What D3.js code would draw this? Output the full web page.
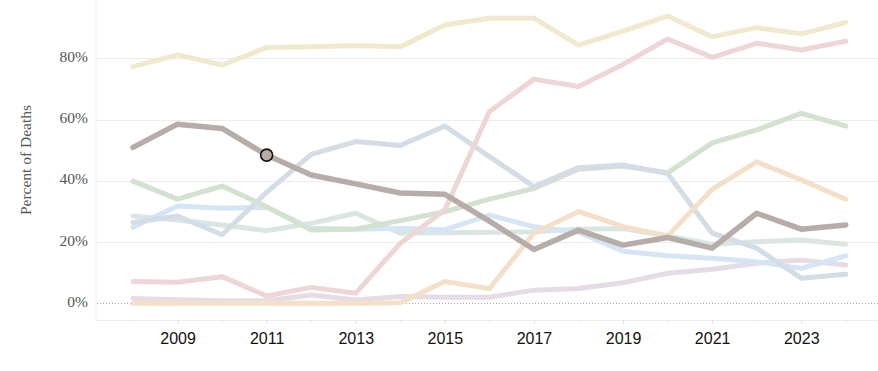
<!DOCTYPE html>
<html><head><meta charset="utf-8">
<script src="https://cdn.jsdelivr.net/npm/d3@7"></script>
<style>
html,body{margin:0;padding:0;background:#fff;}
svg{display:block;}
</style></head>
<body>
<svg id="chart" width="878" height="371"></svg>
<script>
const years = [2008,2009,2010,2011,2012,2013,2014,2015,2016,2017,2018,2019,2020,2021,2022,2023,2024];
const yTicks = [0,20,40,60,80];
const xLabelYears = [2009,2011,2013,2015,2017,2019,2021,2023];

const lavender = [1.6,1.2,0.8,0.8,2.7,1.1,2.2,2.0,2.0,4.3,4.8,6.7,9.8,11.1,13.1,14.1,12.5];
const teal     = [28.5,27.2,25.6,23.7,26.1,29.4,22.9,23.0,23.2,23.4,24.2,24.4,22.0,19.3,20.1,20.7,19.3];
const lightBlue= [24.8,31.8,31.0,31.4,24.5,24.2,24.5,24.0,28.8,25.0,23.2,17.0,15.5,14.7,13.6,11.4,15.5];
const green    = [39.9,34.0,38.3,31.5,23.9,24.3,27.0,29.9,34.0,37.5,43.8,44.8,42.6,52.4,56.6,62.0,57.9];
const blueGray = [26.4,28.5,22.4,36.2,48.6,52.8,51.5,57.9,47.9,38.1,44.3,45.2,42.4,22.9,18.0,8.2,9.5];
const peach    = [0,0,0,0,0,0,0.2,7.1,4.8,22.9,30.0,25.0,22.0,37.2,46.2,40.3,34.0];
const pink     = [7.1,6.9,8.7,2.4,5.2,3.3,19.6,30.5,62.6,73.2,70.8,78.0,86.3,80.3,84.9,82.7,85.6];
const yellow   = [77.3,81.1,77.8,83.5,83.8,84.2,83.8,90.9,93.1,93.1,84.3,88.9,93.8,87.0,90.0,88.0,91.7];
const dark     = [50.9,58.5,57.1,48.4,41.9,39.0,36.0,35.6,26.8,17.6,23.9,19.0,21.5,18.0,29.4,24.2,25.6];
const highlightYear = 2011;

const seriesList = [
  {name:"lavender", values:lavender, color:"#e6dce5"},
  {name:"teal", values:teal, color:"#d9e6e2"},
  {name:"lightBlue", values:lightBlue, color:"#d6e5f5"},
  {name:"green", values:green, color:"#d3e1cf"},
  {name:"blueGray", values:blueGray, color:"#d3dde6"},
  {name:"peach", values:peach, color:"#f4e0c9"},
  {name:"pink", values:pink, color:"#efd6d6"},
  {name:"yellow", values:yellow, color:"#f1e9cd"},
  {name:"dark", values:dark, color:"#b6aca8"}
];

const svg = d3.select("#chart");
const W = 878, plotLeft = 96, plotBottom = 320;
const x = d3.scaleLinear().domain([2008,2024]).range([133,845.8]);
const y = d3.scaleLinear().domain([0,100]).range([303.3,-2.95]);

// frame
svg.append("line").attr("x1",plotLeft).attr("x2",plotLeft).attr("y1",0).attr("y2",plotBottom)
  .attr("stroke","#ececec").attr("stroke-width",1);
svg.append("line").attr("x1",plotLeft).attr("x2",W).attr("y1",plotBottom+0.5).attr("y2",plotBottom+0.5)
  .attr("stroke","#ececec").attr("stroke-width",1);

// gridlines
svg.append("g").selectAll("line").data(yTicks.filter(d=>d>0)).join("line")
  .attr("x1",plotLeft).attr("x2",W)
  .attr("y1",d=>Math.round(y(d))+0.5).attr("y2",d=>Math.round(y(d))+0.5)
  .attr("stroke","#ececec").attr("stroke-width",1);
svg.append("line").attr("x1",plotLeft+1).attr("x2",W)
  .attr("y1",Math.round(y(0))+0.5).attr("y2",Math.round(y(0))+0.5)
  .attr("stroke","#a8a8a8").attr("stroke-width",1).attr("stroke-dasharray","1,2");

// y axis
const yAxis = svg.append("g").attr("transform",`translate(${plotLeft},0)`)
  .call(d3.axisLeft(y).tickValues(yTicks).tickFormat(d=>d+"%").tickSize(0).tickPadding(8));
yAxis.select(".domain").remove();
yAxis.selectAll("text").attr("font-family","'Liberation Serif', 'Times New Roman', serif")
  .attr("font-size","15.5px").attr("fill","#555").attr("y",-1.8);

svg.append("text").attr("transform","translate(31,160) rotate(-90)")
  .attr("text-anchor","middle").attr("font-family","'Liberation Serif', 'Times New Roman', serif")
  .attr("font-size","15.5px").attr("fill","#555").text("Percent of Deaths");

// x axis
const xAxis = svg.append("g").attr("transform",`translate(0,${plotBottom})`)
  .call(d3.axisBottom(x).tickValues(years).tickFormat(d=>xLabelYears.includes(d)?String(d):"").tickSize(4).tickPadding(9));
xAxis.select(".domain").remove();
xAxis.selectAll(".tick line").attr("stroke","#e2e2e2")
  .attr("y2",d=>xLabelYears.includes(d)?4:2);
xAxis.selectAll("text").attr("font-family","'Liberation Sans', Arial, sans-serif")
  .attr("font-size","16px").attr("fill","#111");

// lines
const line = d3.line().x((d,i)=>x(years[i])).y(d=>y(d));
svg.append("g").selectAll("path").data(seriesList).join("path")
  .attr("d",d=>line(d.values))
  .attr("fill","none").attr("stroke",d=>d.color)
  .attr("stroke-width",d=>d.name==="dark"?5.5:5).attr("stroke-linejoin","round").attr("stroke-linecap","round");

// highlight marker
const hi = years.indexOf(highlightYear);
svg.append("circle").attr("cx",x(highlightYear)).attr("cy",y(dark[hi]))
  .attr("r",6).attr("fill","#b6aca8").attr("stroke","#111").attr("stroke-width",1.6);
</script>
</body></html>
